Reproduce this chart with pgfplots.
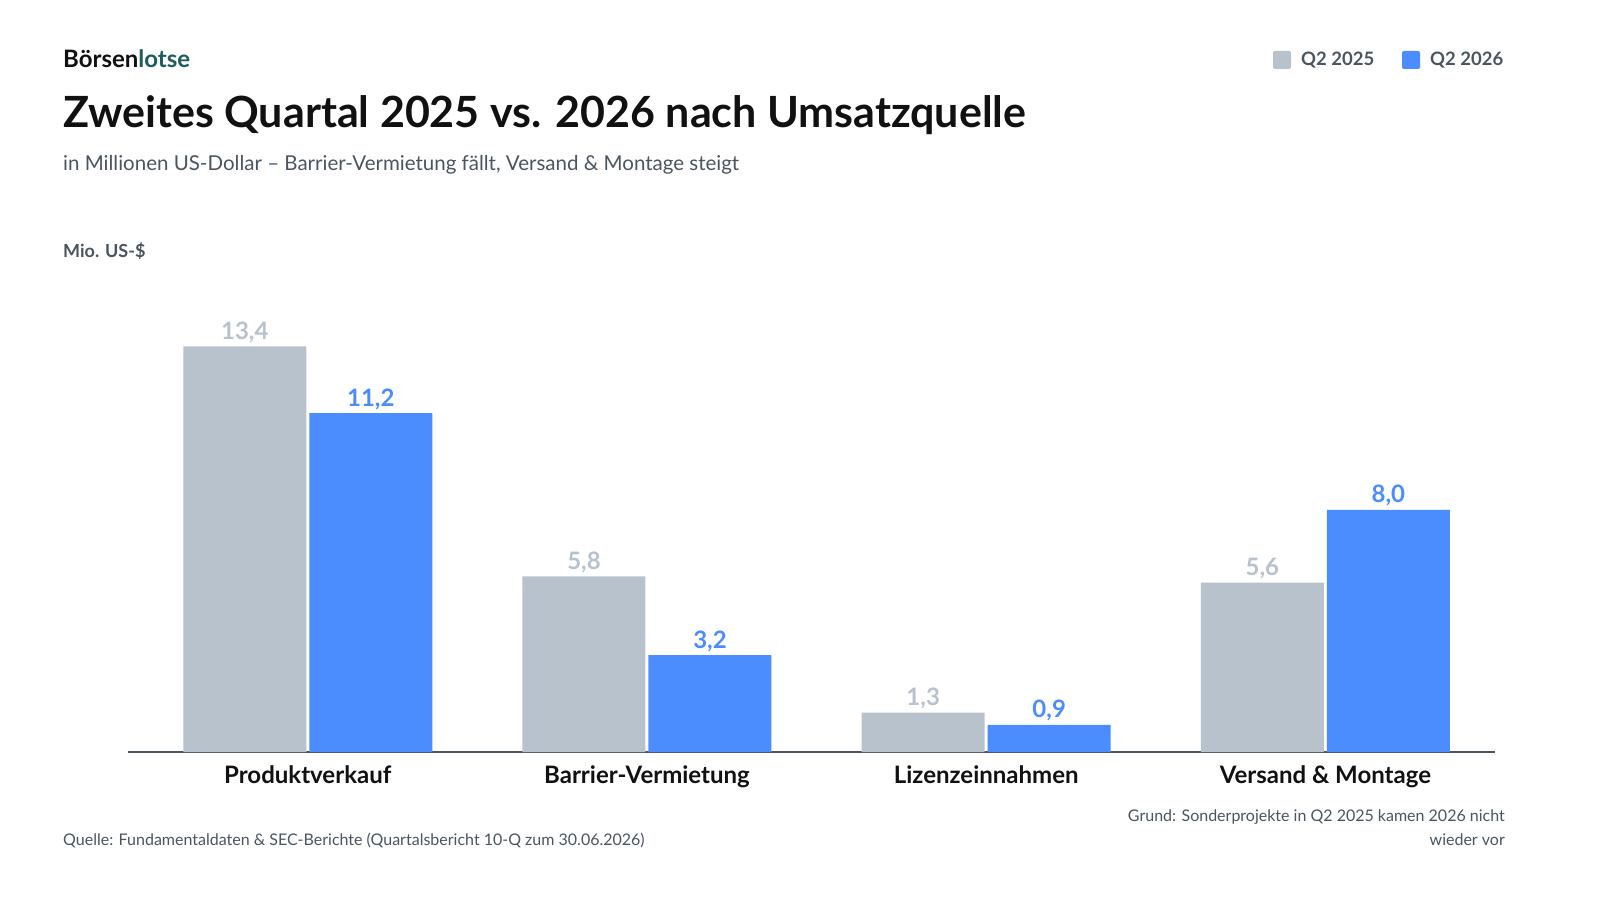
\documentclass[border=0pt]{standalone}
\usepackage{pgfplots}
\pgfplotsset{compat=1.18}
\usepackage{fontspec}
\setmainfont{Lato}
\definecolor{cgray}{HTML}{B8C2CC}
\definecolor{cblue}{HTML}{4B8DFF}
\definecolor{tdark}{HTML}{111111}
\definecolor{tgray}{HTML}{4A5560}
\definecolor{teal}{HTML}{1F5C5C}
\definecolor{gridc}{HTML}{E3E6EA}
\begin{document}
\begin{tikzpicture}[x=1pt,y=1pt]
\fill[white] (0,0) rectangle (1600,900);
\node[anchor=base west,font=\fontsize{24}{28}\selectfont\bfseries,text=tdark,inner sep=0] at (63,832) {Börsen\textcolor{teal}{lotse}};
\node[anchor=base west,font=\fontsize{43}{50}\selectfont\bfseries,text=tdark,inner sep=0] at (63,772) {Zweites Quartal 2025 vs. 2026 nach Umsatzquelle};
\node[anchor=base west,font=\fontsize{20.5}{24}\selectfont,text=tgray,inner sep=0] at (63,729) {in Millionen US-Dollar – Barrier-Vermietung fällt, Versand \& Montage steigt};
\node[anchor=base west,font=\fontsize{18}{22}\selectfont\bfseries,text=tgray,inner sep=0] at (63,642) {Mio. US-\$};
% legend
\fill[cgray,rounded corners=2] (1273,831) rectangle (1291,849);
\node[anchor=base west,font=\fontsize{18.5}{22}\selectfont\bfseries,text=tgray,inner sep=0] at (1301,834) {Q2 2025};
\fill[cblue,rounded corners=2] (1402,831) rectangle (1420,849);
\node[anchor=base west,font=\fontsize{18.5}{22}\selectfont\bfseries,text=tgray,inner sep=0] at (1430,834) {Q2 2026};
% footer
\node[anchor=base west,font=\fontsize{16}{20}\selectfont,text=tgray,inner sep=0] at (63,55) {Quelle: Fundamentaldaten \& SEC-Berichte (Quartalsbericht 10-Q zum 30.06.2026)};
\node[anchor=base east,font=\fontsize{16}{20}\selectfont,text=tgray,inner sep=0] at (1505,79) {Grund: Sonderprojekte in Q2 2025 kamen 2026 nicht};
\node[anchor=base east,font=\fontsize{16}{20}\selectfont,text=tgray,inner sep=0] at (1505,55) {wieder vor};
\begin{axis}[at={(128pt,148pt)},anchor=south west,scale only axis,
 width=1367pt,height=454pt,
 xmin=-0.53,xmax=3.5,ymin=0,ymax=15,
 ybar,bar width=123pt,
 ytick={0,2.5,...,15},
 ymajorgrids,grid style={gridc,line width=1pt},
 axis y line=none,axis x line*=bottom,
 x axis line style={draw=tgray,line width=1.5pt,-},
 xtick={0,1,2,3},
 xticklabels={Produktverkauf,Barrier-Vermietung,Lizenzeinnahmen,Versand \& Montage},
 xtick style={draw=none},ytick style={draw=none},
 xticklabel style={font=\fontsize{24}{28}\selectfont\bfseries,text=tdark,yshift=-6pt},
 yticklabel style={font=\fontsize{19}{22}\selectfont\bfseries,text=tgray},
 /pgf/number format/fixed,/pgf/number format/fixed zerofill,
 /pgf/number format/precision=1,/pgf/number format/use comma,
 /pgf/number format/assume math mode=true,
 nodes near coords,
 nodes near coords style={font=\fontsize{24}{28}\selectfont\bfseries},
 clip=false]
\addplot[fill=cgray,draw=none,bar shift=-63pt,nodes near coords style={text=cgray}] coordinates {(0,13.4)(1,5.8)(2,1.3)(3,5.6)};
\addplot[fill=cblue,draw=none,bar shift=63pt,nodes near coords style={text=cblue}] coordinates {(0,11.2)(1,3.2)(2,0.9)(3,8.0)};
\end{axis}
\end{tikzpicture}
\end{document}
